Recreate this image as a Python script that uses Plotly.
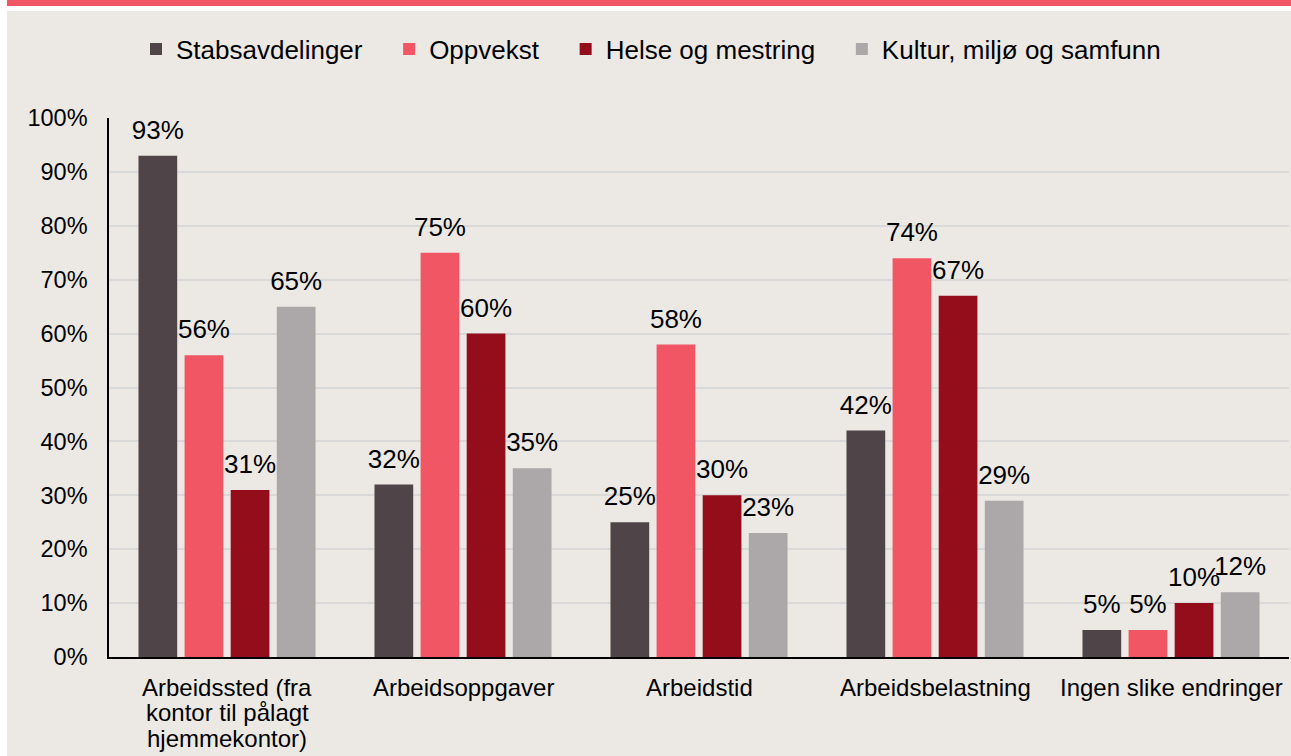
import plotly.graph_objects as go

# ---------------- data ----------------
categories = [
    "Arbeidssted (fra<br>kontor til pålagt<br>hjemmekontor)",
    "Arbeidsoppgaver",
    "Arbeidstid",
    "Arbeidsbelastning",
    "Ingen slike endringer",
]
series_names = ["Stabsavdelinger", "Oppvekst", "Helse og mestring", "Kultur, miljø og samfunn"]
stabsavdelinger = [0.93, 0.32, 0.25, 0.42, 0.05]
oppvekst = [0.56, 0.75, 0.58, 0.74, 0.05]
helse_og_mestring = [0.31, 0.60, 0.30, 0.67, 0.10]
kultur_miljo_samfunn = [0.65, 0.35, 0.23, 0.29, 0.12]
y_tick_values = [0, 0.1, 0.2, 0.3, 0.4, 0.5, 0.6, 0.7, 0.8, 0.9, 1.0]
y_tick_labels = ["0%", "10%", "20%", "30%", "40%", "50%", "60%", "70%", "80%", "90%", "100%"]

series_values = [stabsavdelinger, oppvekst, helse_og_mestring, kultur_miljo_samfunn]
colors = ["#4F4548", "#F05664", "#930E1A", "#ACA7A8"]

# ---------------- layout geometry ----------------
W, H = 1291, 756
ML, MR, MT, MB = 109, 2, 118, 99
PW, PH = W - ML - MR, H - MT - MB
FONT = "Liberation Sans, Arial, sans-serif"
BG = "#ECE9E4"


def px_x(px):
    return (px - ML) / PW


def px_y(py):
    return (H - MB - py) / PH


fig = go.Figure()

for name, vals, col in zip(series_names, series_values, colors):
    fig.add_trace(go.Bar(
        name=name + "\u00a0\u00a0\u00a0",
        x=categories,
        y=vals,
        marker=dict(color=col, line=dict(width=0)),
        offsetgroup=name,
        hoverinfo="skip",
    ))

for name, vals in zip(series_names, series_values):
    fig.add_trace(go.Scatter(
        x=categories,
        y=vals,
        mode="markers+text",
        text=[f"{round(v * 100)}%" for v in vals],
        textposition="top center",
        textfont=dict(family=FONT, size=26, color="#000000"),
        marker=dict(size=15, color="rgba(0,0,0,0)"),
        offsetgroup=name,
        showlegend=False,
        cliponaxis=False,
        hoverinfo="skip",
    ))

# category labels: one annotation per text line (tighter line spacing than tick labels)
annotations = []
for cat in categories:
    for k, line in enumerate(cat.split("<br>")):
        annotations.append(dict(
            x=cat, y=0, xref="x", yref="y",
            text=line, showarrow=False,
            xanchor="center", yanchor="middle",
            yshift=-(30 + 25.5 * k),
            font=dict(family=FONT, size=24, color="#000000"),
        ))

shapes = [
    dict(type="rect", xref="paper", yref="paper", layer="below",
         x0=px_x(7), x1=px_x(W + 5), y0=px_y(H + 5), y1=px_y(11),
         fillcolor=BG, line=dict(width=0)),
    dict(type="rect", xref="paper", yref="paper", layer="below",
         x0=px_x(7), x1=px_x(W + 5), y0=px_y(6), y1=px_y(-5),
         fillcolor="#F05664", line=dict(width=0)),
]

fig.update_layout(
    width=W, height=H,
    margin=dict(l=ML, r=MR, t=MT, b=MB, pad=0),
    paper_bgcolor="#FFFFFF",
    plot_bgcolor="rgba(0,0,0,0)",
    barmode="group",
    bargap=0.2186,
    bargroupgap=0.16,
    scattermode="group",
    scattergap=0.2186,
    font=dict(family=FONT, size=24, color="#000000"),
    shapes=shapes,
    annotations=annotations,
    showlegend=True,
    legend=dict(
        orientation="h",
        xref="container", yref="container",
        x=136 / W, xanchor="left",
        y=1 - 49 / H, yanchor="middle",
        font=dict(family=FONT, size=26, color="#000000"),
        bgcolor="rgba(0,0,0,0)",
        traceorder="normal",
    ),
    xaxis=dict(
        showline=True, linecolor="#000000", linewidth=1.5,
        showgrid=False, ticks="", zeroline=False,
        showticklabels=False,
    ),
    yaxis=dict(
        range=[0, 1],
        tickvals=y_tick_values, ticktext=y_tick_labels,
        showline=True, linecolor="#000000", linewidth=1.5,
        showgrid=True, gridcolor="#D9D9D9", gridwidth=1.5,
        zeroline=False, ticks="",
        tickfont=dict(family=FONT, size=23.5, color="#000000"),
        ticklabelstandoff=15,
    ),
)

fig.write_html(
    "out.html",
    config={"displayModeBar": False},
    post_script="document.body.style.margin='0';document.body.style.overflow='hidden';",
)
